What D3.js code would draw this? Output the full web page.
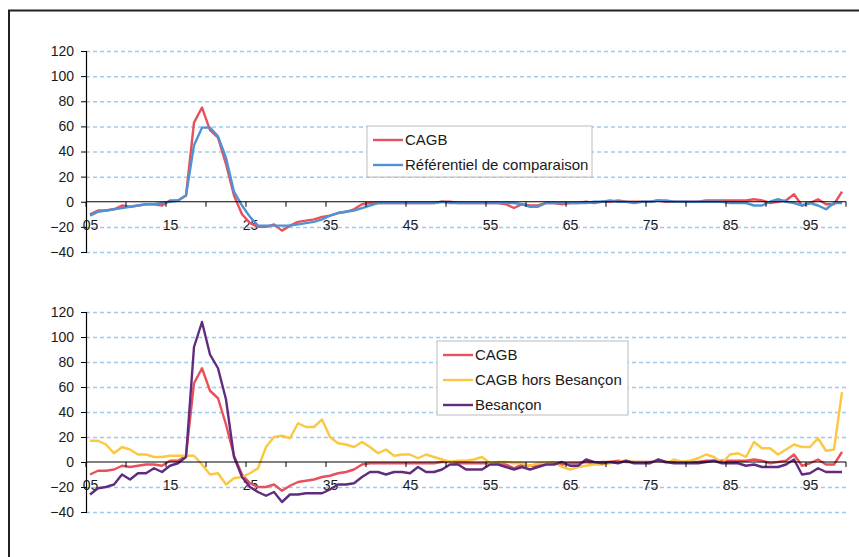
<!DOCTYPE html>
<html>
<head>
<meta charset="utf-8">
<script src="https://cdn.jsdelivr.net/npm/d3@7/dist/d3.min.js"></script>
<style>
  body { margin: 0; background: #fff; }
  svg { display: block; font-family: "Liberation Sans", Arial, sans-serif; }
  .axis text { font-size: 14px; fill: #1a1a1a; }
  .legend text { font-size: 15px; fill: #1a1a1a; }
</style>
</head>
<body>
<script>
(function(){

    //categories : ages 05 to 99
    var ages = d3.range(5, 100).map(function(a){ return (a < 10 ? "0" : "") + a; });
    var tickLabels = ["05", "15", "25", "35", "45", "55", "65", "75", "85", "95"];
    var yTicks = [-40, -20, 0, 20, 40, 60, 80, 100, 120];

    //series (ages 05..99)
    var cagb = [-10, -7, -7, -6, -3, -4, -3, -2, -2, -3, 1, 1, 5, 63, 75, 57, 51, 30, 5, -10,
        -17, -20, -20, -18, -23, -19, -16, -15, -14, -12, -11, -9, -8, -6, -2, -1, -1, -1, -1, -1,
        -1, -1, -1, -1, 0, 0, -1, -1, -1, -1, -1, -1, -2, -5, -2, -3, -3, -1, -1, -2,
        -1, -1, 0, -1, 0, 0, 1, 0, 0, 0, 0, 1, 0, 0, 0, 0, 0, 1, 1, 1,
        1, 1, 1, 2, 1, -1, 0, 1, 6, -3, -1, 2, -2, -2, 8];
    var referentiel = [-11, -8, -7, -6, -5, -4, -3, -2, -2, -1, 0, 1, 5, 45, 59, 59, 52, 35, 8, -3,
        -12, -19, -19, -19, -19, -19, -18, -17, -16, -14, -11, -9, -8, -7, -5, -3, -1, -1, -1, -1,
        -1, -1, -1, -1, 0, -1, -1, -1, -1, -1, -1, -1, -1, -1, -2, -4, -4, -1, -1, -1,
        -1, -1, -1, 0, 0, 1, 0, 0, -1, 0, 0, 1, 1, 0, 0, 0, 0, 0, 0, 0,
        -1, -1, -1, -3, -3, 0, 2, 0, -1, -3, -1, -3, -6, -1, -1];
    var horsBesancon = [17, 17, 14, 7, 12, 10, 6, 6, 4, 4, 5, 5, 5, 5, -2, -10, -9, -18, -13, -12,
        -9, -5, 12, 20, 21, 19, 31, 28, 28, 34, 20, 15, 14, 12, 16, 12, 7, 10, 5, 6,
        6, 3, 6, 4, 2, 0, 1, 1, 2, 4, -1, 0, 0, -1, -1, -3, -1, -1, 0, -4,
        -6, -4, -3, -2, -2, -1, 0, 1, 0, 0, -1, 2, -1, 2, 0, 1, 3, 6, 4, -1,
        6, 7, 4, 16, 11, 11, 6, 10, 14, 12, 12, 19, 9, 10, 56];
    var besancon = [-26, -21, -20, -18, -10, -14, -9, -9, -5, -8, -3, -1, 4, 92, 112, 86, 75, 50, 4, -12,
        -20, -24, -27, -24, -32, -26, -26, -25, -25, -25, -22, -18, -18, -17, -12, -8, -8, -10, -8, -8,
        -9, -4, -8, -8, -6, -2, -2, -6, -6, -6, -2, -2, -4, -6, -4, -6, -4, -2, -2, 0,
        -3, -3, 2, 0, -1, 0, -1, 1, -1, -1, -1, 2, 0, -1, -1, -1, -1, 0, 1, -1,
        -1, -1, -3, -2, -4, -4, -4, -2, 2, -10, -9, -5, -8, -8, -8];

    var colors = {
        red: "#e8505b",
        blue: "#4f93d6",
        yellow: "#fcc841",
        purple: "#602c80"
    };

    var width = 859, height = 557;

    var svg = d3.select("body")
        .append("svg")
        .attr("width", width)
        .attr("height", height);

    //outer frame (cropped on the right and bottom)
    svg.append("rect")
        .attr("x", 9)
        .attr("y", 10.5)
        .attr("width", 900)
        .attr("height", 600)
        .attr("fill", "none")
        .attr("stroke", "#222")
        .attr("stroke-width", 2);

    var x = d3.scalePoint()
        .domain(ages)
        .range([86, 846])
        .padding(0.5);

    //draw one panel
    function drawPanel(top, bottom, series, legend){
        var y = d3.scaleLinear()
            .domain([-40, 120])
            .range([bottom, top]);

        var g = svg.append("g");

        //dashed gridlines
        g.append("g")
            .attr("class", "grid")
            .attr("transform", "translate(86,0)")
            .call(d3.axisRight(y).tickValues(yTicks.filter(function(d){ return d != 0; })).tickSize(760).tickFormat(""))
            .call(function(s){
                s.select(".domain").remove();
                s.selectAll("line")
                    .attr("stroke", "#9dcbef")
                    .attr("stroke-width", 1.5)
                    .attr("stroke-dasharray", "4,3");
            });

        //y axis
        g.append("g")
            .attr("class", "axis")
            .attr("transform", "translate(86,0)")
            .call(d3.axisLeft(y).tickValues(yTicks).tickSize(5).tickPadding(7))
            .call(function(s){
                s.select(".domain").attr("stroke", "#000").attr("stroke-width", 1.2);
                s.selectAll("line").attr("stroke", "#000");
            });

        //x axis labels along the zero line
        var y0 = y(0);
        g.append("g")
            .attr("class", "axis")
            .attr("transform", "translate(0," + y0 + ")")
            .call(d3.axisBottom(x).tickValues(tickLabels).tickSize(0).tickPadding(18))
            .call(function(s){
                s.select(".domain").remove();
            });

        //series lines
        var line = d3.line()
            .x(function(d, i){ return x(ages[i]); })
            .y(function(d){ return y(d); });

        series.forEach(function(s){
            g.append("path")
                .datum(s.values)
                .attr("fill", "none")
                .attr("stroke", s.color)
                .attr("stroke-width", 2.4)
                .attr("stroke-linejoin", "round")
                .attr("d", line);
        });

        //zero line and tick marks between categories
        g.append("line")
            .attr("x1", 86).attr("x2", 846)
            .attr("y1", y0).attr("y2", y0)
            .attr("stroke", "#000")
            .attr("stroke-width", 1.2);
        var step = x.step();
        var marks = d3.range(0, ages.length + 1, 5).map(function(i){
            return i < ages.length ? x(ages[i]) - step / 2 : x(ages[ages.length - 1]) + step / 2;
        });
        g.selectAll(".xtick")
            .data(marks)
            .enter()
            .append("line")
            .attr("class", "xtick")
            .attr("x1", function(d){ return d; })
            .attr("x2", function(d){ return d; })
            .attr("y1", y0)
            .attr("y2", y0 + 5)
            .attr("stroke", "#000");

        //legend
        var lg = g.append("g")
            .attr("class", "legend")
            .attr("transform", "translate(" + legend.x + "," + legend.y + ")");
        lg.append("rect")
            .attr("width", legend.w)
            .attr("height", legend.h)
            .attr("fill", "#fff")
            .attr("stroke", "#bcbcbc");
        series.forEach(function(s, i){
            var ly = 14 + i * 25;
            lg.append("line")
                .attr("x1", 6).attr("x2", 36)
                .attr("y1", ly).attr("y2", ly)
                .attr("stroke", s.color)
                .attr("stroke-width", 2.4);
            lg.append("text")
                .attr("x", 38)
                .attr("y", ly)
                .attr("dy", "0.35em")
                .text(s.name);
        });
    }

    drawPanel(51, 252, [
        {name: "CAGB", values: cagb, color: colors.red},
        {name: "Référentiel de comparaison", values: referentiel, color: colors.blue}
    ], {x: 367, y: 126, w: 225, h: 51});

    drawPanel(312, 512, [
        {name: "CAGB", values: cagb, color: colors.red},
        {name: "CAGB hors Besançon", values: horsBesancon, color: colors.yellow},
        {name: "Besançon", values: besancon, color: colors.purple}
    ], {x: 437, y: 341, w: 191, h: 74});

})();
</script>
</body>
</html>
